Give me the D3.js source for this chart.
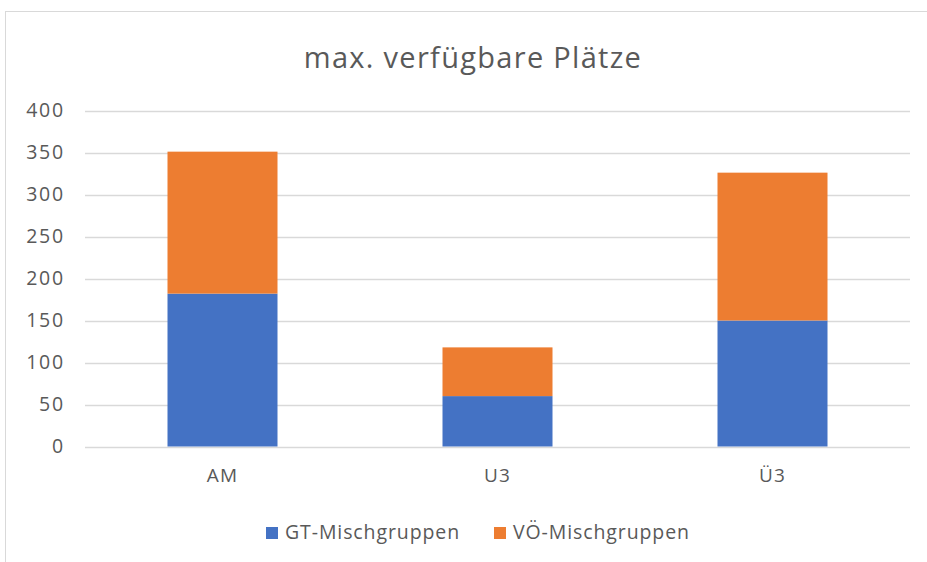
<!DOCTYPE html>
<html>
<head>
<meta charset="utf-8">
<script src="https://cdn.jsdelivr.net/npm/d3@7"></script>
<style>
  body { margin: 0; background: #fff; }
  svg { font-family: "Open Sans", Lato, sans-serif; }
</style>
</head>
<body>
<div id="app"></div>
<script>
// chart data
const categories = ["AM", "U3", "Ü3"];
const seriesNames = ["GT-Mischgruppen", "VÖ-Mischgruppen"];
const gtValues = [182, 60, 150];
const voValues = [169, 58, 176];
const yTicks = [0, 50, 100, 150, 200, 250, 300, 350, 400];
const colors = ["#4472C4", "#ED7D31"];

let width = 927,
    height = 562;

const margin = {top: 110.5, right: 17, bottom: 115.5, left: 85};
const labelFont = "'Open Sans', Lato, sans-serif";

const svg = d3.select("#app").append("svg")
    .attr("width", width)
    .attr("height", height);

// chart frame
svg.append("rect")
    .attr("x", 5.5).attr("y", 11.5)
    .attr("width", width + 10).attr("height", height + 10)
    .attr("fill", "none")
    .attr("stroke", "#d9d9d9");

svg.append("text")
    .attr("x", 473).attr("y", 68)
    .attr("text-anchor", "middle")
    .attr("font-size", 29)
    .attr("letter-spacing", 1.3)
    .attr("fill", "#595959")
    .text("max. verfügbare Plätze");

const x = d3.scaleBand()
    .domain(categories)
    .range([margin.left, width - margin.right])
    .paddingInner(0.6)
    .paddingOuter(0.3);

const y = d3.scaleLinear()
    .domain([0, 400])
    .range([height - margin.bottom, margin.top]);

// grid
svg.append("g")
    .selectAll("line")
    .data(yTicks)
    .join("line")
    .attr("x1", margin.left)
    .attr("x2", width - margin.right)
    .attr("y1", d => Math.round(y(d)) + 0.5)
    .attr("y2", d => Math.round(y(d)) + 0.5)
    .attr("stroke", "#d9d9d9")
    .attr("stroke-width", 1.3);

const yAxis = svg.append("g")
    .attr("transform", `translate(${margin.left - 20},0)`)
    .call(d3.axisLeft(y).tickValues(yTicks).tickSize(0).tickPadding(0));
yAxis.select(".domain").remove();
yAxis.selectAll("text")
    .attr("font-size", 19.5)
    .attr("letter-spacing", 1.8)
    .attr("font-family", labelFont)
    .attr("fill", "#595959");

const xAxis = svg.append("g")
    .attr("transform", `translate(0,${height - margin.bottom})`)
    .call(d3.axisBottom(x).tickSize(0).tickPadding(22));
xAxis.select(".domain").remove();
xAxis.selectAll("text")
    .attr("font-size", 19)
    .attr("letter-spacing", 1.2)
    .attr("font-family", labelFont)
    .attr("fill", "#595959");

// stacked bars
const rows = categories.map((c, i) => ({cat: c, gt: gtValues[i], vo: voValues[i]}));
const stack = d3.stack().keys(["gt", "vo"])(rows);

svg.append("g")
    .selectAll("g")
    .data(stack)
    .join("g")
    .attr("fill", (d, i) => colors[i])
    .selectAll("rect")
    .data(d => d)
    .join("rect")
    .attr("x", d => x(d.data.cat))
    .attr("y", d => y(d[1]))
    .attr("width", x.bandwidth())
    .attr("height", d => y(d[0]) - y(d[1]));

// legend
const legendX = [266, 494];
const legend = svg.append("g")
    .selectAll("g")
    .data(seriesNames)
    .join("g")
    .attr("transform", (d, i) => `translate(${legendX[i]},527)`);
legend.append("rect")
    .attr("width", 12).attr("height", 12)
    .attr("fill", (d, i) => colors[i]);
legend.append("text")
    .attr("x", 19).attr("y", 12)
    .attr("font-size", 19.5)
    .attr("letter-spacing", 0.9)
    .attr("fill", "#595959")
    .text(d => d);
</script>
</body>
</html>
